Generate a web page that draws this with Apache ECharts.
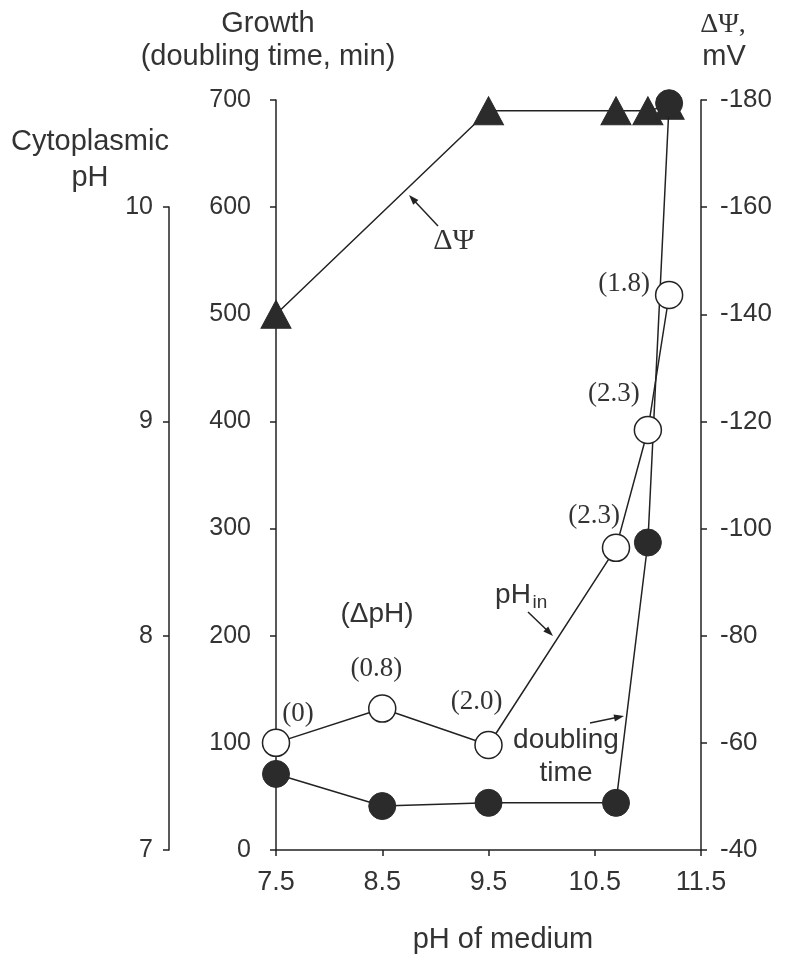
<!DOCTYPE html>
<html>
<head>
<meta charset="utf-8">
<script src="https://cdn.jsdelivr.net/npm/echarts@6/dist/echarts.min.js"></script>
<style>html,body{margin:0;padding:0;background:#fff;}#c{width:793px;height:959px;}</style>
</head>
<body>
<div id="c"></div>
<script>
// ---- data ----
var mediumPH = [7.5, 8.5, 9.5, 10.7, 11.0, 11.2];
var doublingTime = [71, 41, 44, 44, 287, 697];
var cytoPH = [7.50, 7.66, 7.49, 8.41, 8.96, 9.59];
var deltaPHLabels = ['(0)', '(0.8)', '(2.0)', '(2.3)', '(2.3)', '(1.8)'];
var psiMediumPH = [7.5, 9.5, 10.7, 11.0, 11.2];
var deltaPsi = [-140, -178, -178, -178, -179];
var xTicks = [7.5, 8.5, 9.5, 10.5, 11.5];
var growthTicks = [0, 100, 200, 300, 400, 500, 600, 700];
var cytoTicks = [7, 8, 9, 10];
var psiTicks = [-180, -160, -140, -120, -100, -80, -60, -40];

var SANS = '"Liberation Sans", Arial, sans-serif';
var SERIF = '"Liberation Serif", "Times New Roman", serif';
var INK = '#222';
var TXT = '#333';

function pairs(xs, ys) { return xs.map(function (x, i) { return [x, ys[i]]; }); }

var chart = echarts.init(document.getElementById('c'), null, {renderer: 'canvas'});

var axisCommon = {
  axisLine: {show: true, lineStyle: {color: INK, width: 1.5}},
  axisTick: {show: true, inside: false, length: 6, lineStyle: {color: INK, width: 1.5}},
  splitLine: {show: false},
  axisLabel: {color: TXT, fontFamily: SANS, fontSize: 25}
};

var option = {
  backgroundColor: '#fff',
  animation: false,
  grid: [
    {left: 276, right: 92, top: 100, bottom: 109},
    {left: 169, width: 1, top: 207, bottom: 109}
  ],
  xAxis: [
    Object.assign({}, axisCommon, {
      type: 'value', gridIndex: 0, min: xTicks[0], max: xTicks[xTicks.length - 1], interval: 1,
      axisLabel: {color: TXT, fontFamily: SANS, fontSize: 27, margin: 19,
        formatter: function (v) { return v.toFixed(1); }}
    }),
    {type: 'value', gridIndex: 1, show: false, min: 0, max: 1}
  ],
  yAxis: [
    Object.assign({}, axisCommon, {
      type: 'value', gridIndex: 0, position: 'left', min: growthTicks[0],
      max: growthTicks[growthTicks.length - 1], interval: 100,
      axisLabel: {color: TXT, fontFamily: SANS, fontSize: 25, margin: 25}
    }),
    Object.assign({}, axisCommon, {
      type: 'value', gridIndex: 0, position: 'right', inverse: true,
      min: psiTicks[0], max: psiTicks[psiTicks.length - 1], interval: 20,
      axisLabel: {color: TXT, fontFamily: SANS, fontSize: 26, margin: 19}
    }),
    {type: 'value', gridIndex: 0, show: false, min: 7, max: 10.5},
    Object.assign({}, axisCommon, {
      type: 'value', gridIndex: 1, position: 'left', min: cytoTicks[0],
      max: cytoTicks[cytoTicks.length - 1], interval: 1,
      axisLabel: {color: TXT, fontFamily: SANS, fontSize: 25, margin: 16}
    })
  ],
  series: [
    {
      type: 'line', name: 'ΔΨ', xAxisIndex: 0, yAxisIndex: 1,
      data: pairs(psiMediumPH, deltaPsi),
      symbol: 'triangle', symbolSize: [30, 28],
      lineStyle: {color: INK, width: 1.5},
      itemStyle: {color: '#2b2b2b', borderColor: '#2b2b2b', borderWidth: 1},
      z: 2
    },
    {
      type: 'line', name: 'doubling time', xAxisIndex: 0, yAxisIndex: 0,
      data: pairs(mediumPH, doublingTime),
      symbol: 'circle', symbolSize: 27,
      lineStyle: {color: INK, width: 1.5},
      itemStyle: {color: '#2b2b2b', borderColor: '#2b2b2b', borderWidth: 1},
      z: 3
    },
    {
      type: 'line', name: 'pHin', xAxisIndex: 0, yAxisIndex: 2,
      data: pairs(mediumPH, cytoPH),
      symbol: 'circle', symbolSize: 27,
      lineStyle: {color: INK, width: 1.5},
      itemStyle: {color: '#fff', borderColor: INK, borderWidth: 1.5},
      z: 4
    }
  ]
};
chart.setOption(option);

function txt(x, y, s, font, extra) {
  var st = {text: s, font: font, fill: TXT, align: 'center', verticalAlign: 'middle',
            textAlign: 'center', textVerticalAlign: 'middle'};
  if (extra) Object.assign(st, extra);
  return {type: 'text', x: x, y: y, z: 100, style: st};
}
function arrow(x1, y1, x2, y2) {
  var dx = x2 - x1, dy = y2 - y1, L = Math.sqrt(dx * dx + dy * dy);
  var ux = dx / L, uy = dy / L, nx = -uy, ny = ux, h = 10, w = 3.5;
  return [
    {type: 'polyline', z: 100, shape: {points: [[x1, y1], [x2 - ux * 4, y2 - uy * 4]]},
     style: {stroke: INK, lineWidth: 1.5, fill: null}},
    {type: 'polygon', z: 100, shape: {points: [[x2, y2],
      [x2 - ux * h + nx * w, y2 - uy * h + ny * w], [x2 - ux * h - nx * w, y2 - uy * h - ny * w]]},
     style: {fill: INK}}
  ];
}

var F29 = '29px ' + SANS;
var F28 = '28px ' + SANS;
var g = [];
g.push(txt(268, 24, 'Growth', F29));
g.push(txt(268, 57, '(doubling time, min)', F29));
g.push(txt(90, 142, 'Cytoplasmic', F29));
g.push(txt(90, 178, 'pH', F29));
g.push(txt(723, 25, 'ΔΨ,', '28px ' + SERIF));
g.push(txt(724, 57, 'mV', F29));
g.push(txt(503, 940, 'pH of medium', F29));
g.push(txt(454, 241, 'ΔΨ', '30px ' + SERIF));
g.push(txt(377, 614, '(ΔpH)', F28));
g.push(txt(513, 595, 'pH', F28));
g.push(txt(540, 603, 'in', '19px ' + SANS));
g.push(txt(566, 740, 'doubling', F28));
g.push(txt(566, 773, 'time', F28));
g = g.concat(arrow(438, 226, 409, 195));
g = g.concat(arrow(528, 612, 553, 636));
g = g.concat(arrow(590, 723, 624, 716));

var labelOffsets = [[22, -29], [-6, -40], [-12, -43], [-22, -32], [-34, -36], [-45, -11]];
mediumPH.forEach(function (x, i) {
  var p = chart.convertToPixel({xAxisIndex: 0, yAxisIndex: 2}, [x, cytoPH[i]]);
  g.push(txt(p[0] + labelOffsets[i][0], p[1] + labelOffsets[i][1], deltaPHLabels[i], '27px ' + SERIF));
});

chart.setOption({graphic: g});
</script>
</body>
</html>
